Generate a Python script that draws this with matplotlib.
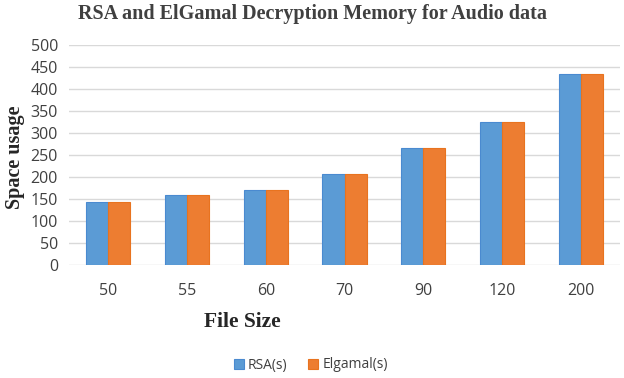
import numpy as np
import matplotlib.pyplot as plt

file_sizes = ["50", "55", "60", "70", "90", "120", "200"]
rsa = [144, 160, 171, 206, 265, 324, 434]
elgamal = [144, 160, 171, 206, 265, 324, 434]

fig = plt.figure(figsize=(6.24, 3.78), dpi=100)
ax = fig.add_axes([69 / 624, 1 - 265 / 378, (620 - 69) / 624, 220 / 378])

x = np.arange(len(file_sizes))
w = 0.28
ax.bar(x - w / 2, rsa, w, color="#5b9bd5", edgecolor="#4a8ad0", linewidth=0.8, label="RSA(s)", zorder=3)
ax.bar(x + w / 2, elgamal, w, color="#ed7d31", edgecolor="#e8731f", linewidth=0.8, label="Elgamal(s)", zorder=3)

ax.set_xlim(-0.5, len(file_sizes) - 0.5)
ax.set_ylim(0, 500)
ax.set_yticks(range(0, 501, 50))
ax.set_xticks(x)
ax.set_xticklabels(file_sizes)
ax.grid(axis="y", color="#d9d9d9", linewidth=1, zorder=0)
for s in ax.spines.values():
    s.set_visible(False)
ax.tick_params(length=0, labelsize=11.5, labelcolor="#404040")
ax.tick_params(axis="x", pad=13)
ax.tick_params(axis="y", pad=8)
for lab in ax.get_xticklabels() + ax.get_yticklabels():
    lab.set_family("Open Sans")

fig.text(0.5, 1 - 14 / 378, "RSA and ElGamal Decryption Memory for Audio data",
         ha="center", va="center", fontsize=14.5, fontweight="bold",
         family="Liberation Serif", color="#404040")
fig.text(15 / 624, 1 - 157 / 378, "Space usage", rotation=90, ha="center", va="center",
         fontsize=14.5, fontweight="bold", family="Liberation Serif", color="#262626")
fig.text(242 / 624, 1 - 322 / 378, "File Size", ha="center", va="center",
         fontsize=15.5, fontweight="bold", family="Liberation Serif", color="#262626")

fig.legend(loc="center", bbox_to_anchor=(311 / 624, 1 - 365 / 378), ncol=2, frameon=False,
           prop={"family": "Open Sans", "size": 10}, handlelength=0.7, handleheight=0.7,
           handletextpad=0.3, columnspacing=1.5, labelcolor="#404040")

fig.savefig("out.png", dpi=100)
